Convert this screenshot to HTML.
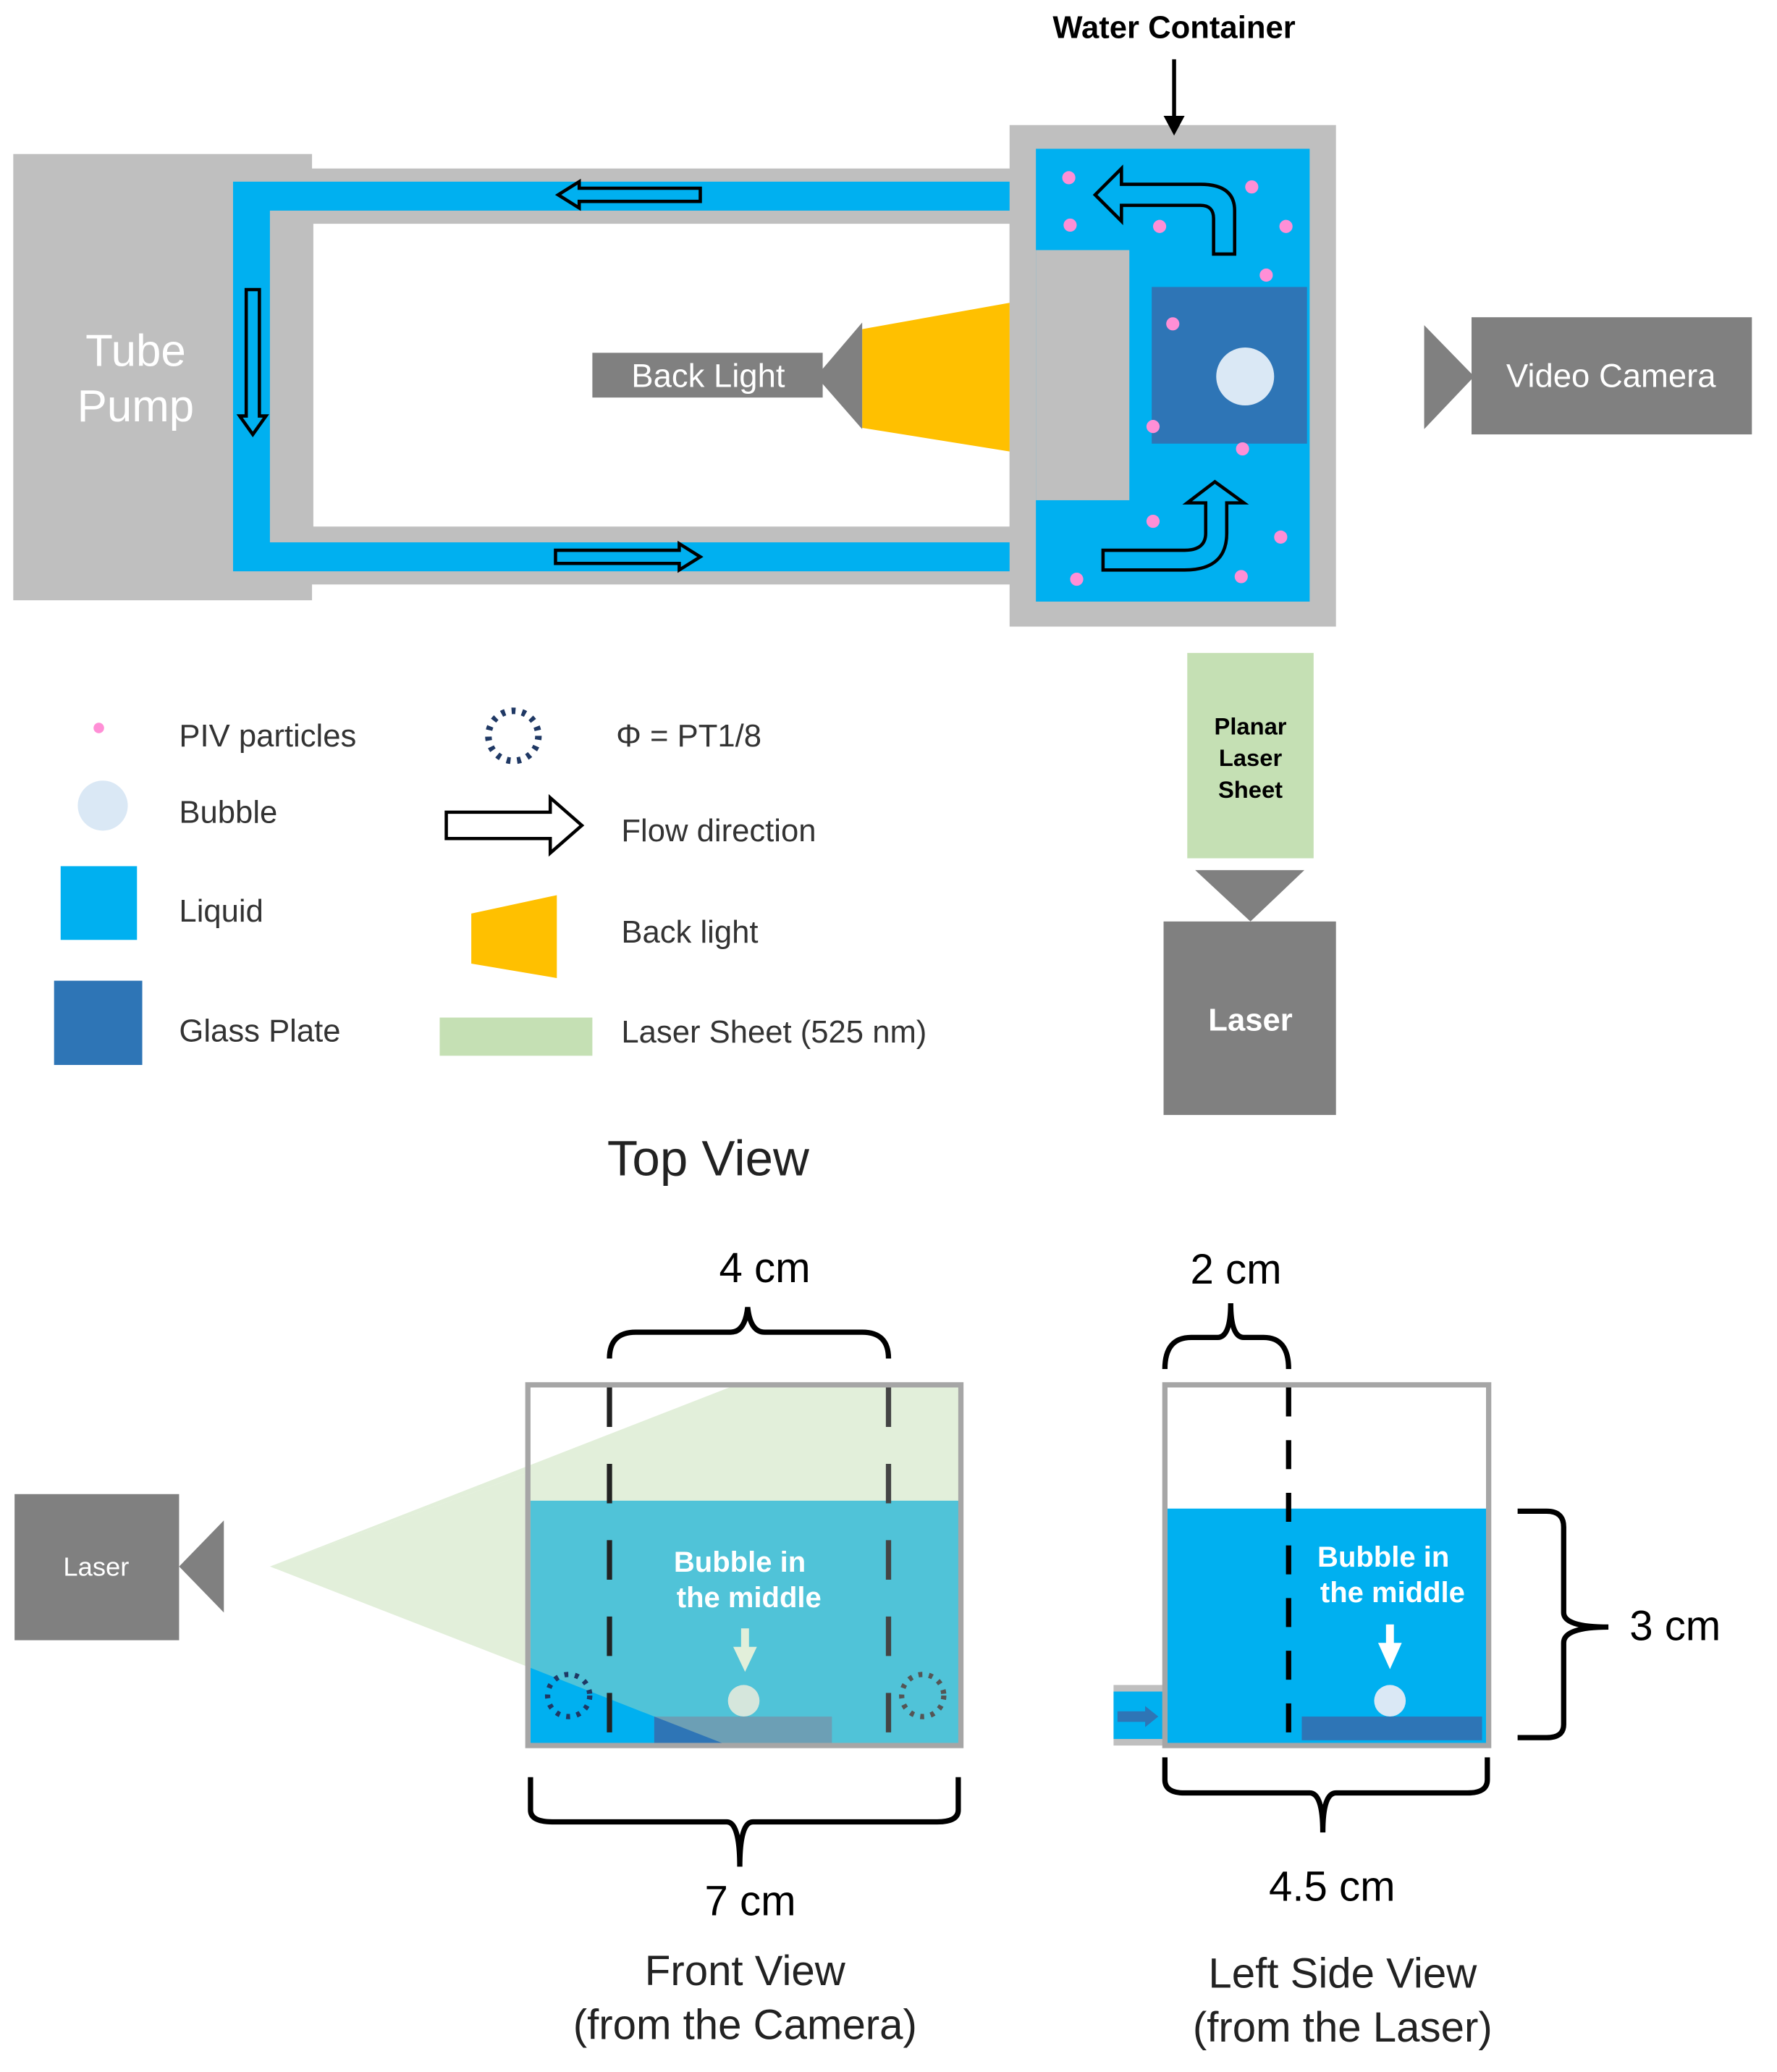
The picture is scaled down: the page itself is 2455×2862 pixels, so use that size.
<!DOCTYPE html>
<html><head><meta charset="utf-8"><style>html,body{margin:0;padding:0;background:#fff}svg{display:block}</style></head>
<body>
<svg width="2455" height="2862" viewBox="0 0 1350 1574" xmlns="http://www.w3.org/2000/svg" font-family="Liberation Sans, DejaVu Sans, sans-serif">
<!-- Tube pump -->
<rect x="10" y="117" width="227" height="339" fill="#bfbfbf"/>
<text x="103" y="278" font-size="34" fill="#fff" text-anchor="middle">Tube</text>
<text x="103" y="320" font-size="34" fill="#fff" text-anchor="middle">Pump</text>
<!-- tubes -->
<rect x="177" y="128" width="613" height="316" fill="#bfbfbf"/>
<rect x="177" y="138" width="613" height="296" fill="#00b0f0"/>
<rect x="205" y="160" width="585" height="252" fill="#bfbfbf"/>
<rect x="238" y="170" width="529" height="230" fill="#fff"/>
<!-- water container -->
<rect x="767" y="95" width="248" height="381" fill="#bfbfbf"/>
<rect x="787" y="113" width="208" height="344" fill="#00b0f0"/>
<rect x="787" y="190" width="71" height="190" fill="#bfbfbf"/>
<rect x="875" y="218" width="118" height="119" fill="#2e75b6"/>
<circle cx="946" cy="286" r="22" fill="#dae8f5"/>
<g fill="#ff8fd6">
<circle cx="812" cy="135" r="5"/><circle cx="951" cy="142" r="5"/><circle cx="813" cy="171" r="5"/><circle cx="881" cy="172" r="5"/><circle cx="977" cy="172" r="5"/><circle cx="962" cy="209" r="5"/><circle cx="891" cy="246" r="5"/><circle cx="876" cy="324" r="5"/><circle cx="944" cy="341" r="5"/><circle cx="876" cy="396" r="5"/><circle cx="973" cy="408" r="5"/><circle cx="818" cy="440" r="5"/><circle cx="943" cy="438" r="5"/>
</g>
<!-- flow arrows -->
<g fill="none" stroke="#000" stroke-width="2.5">
<path d="M532,143 L440,143 L440,138 L424,148 L440,158 L440,153 L532,153 Z"/>
<path d="M422,418 L516,418 L516,413 L532,423 L516,433 L516,428 L422,428 Z"/>
<path d="M187,220 L187,316 L182,316 L192,330 L202,316 L197,316 L197,220 Z"/>
<path d="M938,193 L938,160 Q938,140 912,140 L852,140 L852,128 L832,148 L852,168 L852,156 L912,156 Q922,156 922,166 L922,193 Z"/>
<path d="M838,433 L900,433 Q932,433 932,405 L932,382 L945,382 L923,366 L902,382 L916,382 L916,405 Q916,418 900,418 L838,418 Z"/>
</g>
<!-- Water container label -->
<text x="892" y="29" font-size="24" font-weight="bold" text-anchor="middle">Water Container</text>
<line x1="892" y1="45" x2="892" y2="92" stroke="#000" stroke-width="3"/>
<path d="M884,88 L900,88 L892,103 Z" fill="#000"/>
<!-- back light -->
<polygon points="655,250 767,230 767,343 655,325" fill="#ffc000"/>
<polygon points="655,245 655,326 620,286" fill="#808080"/>
<rect x="450" y="268" width="175" height="34" fill="#808080"/>
<text x="538" y="294" font-size="25" fill="#fff" text-anchor="middle">Back Light</text>
<!-- video camera -->
<polygon points="1082,247 1082,326 1120,286" fill="#808080"/>
<rect x="1118" y="241" width="213" height="89" fill="#808080"/>
<text x="1224" y="294" font-size="25" fill="#fff" text-anchor="middle">Video Camera</text>
<!-- laser top view -->
<rect x="902" y="496" width="96" height="156" fill="#c5e0b4"/>
<text x="950" y="558" font-size="18" font-weight="bold" text-anchor="middle">Planar</text>
<text x="950" y="582" font-size="18" font-weight="bold" text-anchor="middle">Laser</text>
<text x="950" y="606" font-size="18" font-weight="bold" text-anchor="middle">Sheet</text>
<polygon points="908,661 991,661 950,700" fill="#808080"/>
<rect x="884" y="700" width="131" height="147" fill="#808080"/>
<text x="950" y="783" font-size="24" font-weight="bold" fill="#fff" text-anchor="middle">Laser</text>
<!-- legend -->
<circle cx="75" cy="553" r="4" fill="#ff8fd6"/>
<text x="136" y="567" font-size="24" fill="#333">PIV particles</text>
<circle cx="78" cy="612" r="19" fill="#dae8f5"/>
<text x="136" y="625" font-size="24" fill="#333">Bubble</text>
<rect x="46" y="658" width="58" height="56" fill="#00b0f0"/>
<text x="136" y="700" font-size="24" fill="#333">Liquid</text>
<rect x="41" y="745" width="67" height="64" fill="#2e75b6"/>
<text x="136" y="791" font-size="24" fill="#333">Glass Plate</text>
<circle cx="390" cy="559" r="19" fill="none" stroke="#1f3864" stroke-width="5" stroke-dasharray="3,5"/>
<text x="468" y="567" font-size="24" fill="#333">Φ  =  PT1/8</text>
<path d="M339,617 L418,617 L418,606 L442,627 L418,648 L418,637 L339,637 Z" fill="none" stroke="#000" stroke-width="2.5"/>
<text x="472" y="639" font-size="24" fill="#333">Flow direction</text>
<polygon points="358,694 423,680 423,743 358,732" fill="#ffc000"/>
<text x="472" y="716" font-size="24" fill="#333">Back light</text>
<rect x="334" y="773" width="116" height="29" fill="#c5e0b4"/>
<text x="472" y="792" font-size="24" fill="#333">Laser Sheet (525 nm)</text>
<text x="538" y="893" font-size="38" fill="#222" text-anchor="middle">Top View</text>
<!-- front view -->
<rect x="403" y="1140" width="325" height="186" fill="#00b0f0"/>
<polygon points="205,1190 554,1054 730,1054 730,1140 403,1140 403,1118" fill="#e2efda"/>
<polygon points="205,1190 403,1118 403,1267" fill="#e2efda"/>
<polygon points="403,1140 728,1140 728,1326 553,1326 403,1267" fill="#50c3d8"/>
<rect x="497" y="1304" width="135" height="21" fill="#6c9fb5"/>
<polygon points="497,1304 497,1325 551,1325" fill="#2e75b6"/>
<rect x="401" y="1052" width="329" height="274" fill="none" stroke="#a6a6a6" stroke-width="4"/>
<line x1="463" y1="1054" x2="463" y2="1326" stroke="#222" stroke-width="4" stroke-dasharray="30,28"/>
<line x1="675" y1="1054" x2="675" y2="1326" stroke="#444" stroke-width="4" stroke-dasharray="30,28"/>
<circle cx="432" cy="1288" r="16" fill="none" stroke="#1f3864" stroke-width="4" stroke-dasharray="3,5"/>
<circle cx="701" cy="1288" r="16" fill="none" stroke="#555" stroke-width="4" stroke-dasharray="3,5"/>
<text x="562" y="1194" font-size="22" font-weight="bold" fill="#fff" text-anchor="middle">Bubble in</text>
<text x="569" y="1221" font-size="22" font-weight="bold" fill="#fff" text-anchor="middle">the middle</text>
<rect x="563" y="1237" width="6" height="17" fill="#e2efda"/><path d="M557,1251 L575,1251 L566,1270Z" fill="#e2efda"/>
<circle cx="565" cy="1292" r="12" fill="#d5e6dc"/>
<path d="M463,1032 Q463,1012 483,1012 L555,1012 Q566,1012 568,993 Q570,1012 581,1012 L655,1012 Q675,1012 675,1032" fill="none" stroke="#000" stroke-width="4"/>
<text x="581" y="974" font-size="32" text-anchor="middle">4 cm</text>
<path d="M403,1350 L403,1375 Q403,1384 420,1384 L552,1384 Q562,1384 562,1418 Q562,1384 572,1384 L712,1384 Q728,1384 728,1375 L728,1350" fill="none" stroke="#000" stroke-width="4"/>
<text x="570" y="1455" font-size="32" text-anchor="middle">7 cm</text>
<text x="566" y="1508" font-size="32" fill="#222" text-anchor="middle">Front View</text>
<text x="566" y="1549" font-size="32" fill="#222" text-anchor="middle">(from the Camera)</text>
<!-- laser left -->
<rect x="11" y="1135" width="125" height="111" fill="#808080"/>
<polygon points="136,1190 170,1155 170,1225" fill="#808080"/>
<text x="73" y="1197" font-size="20" fill="#fff" text-anchor="middle">Laser</text>
<!-- side view -->
<rect x="887" y="1146" width="242" height="180" fill="#00b0f0"/>
<rect x="989" y="1304" width="137" height="18" fill="#2e75b6"/>
<rect x="846" y="1280" width="39" height="46" fill="#bfbfbf"/>
<rect x="846" y="1285" width="39" height="36" fill="#00b0f0"/>
<path d="M849,1300 L870,1300 L870,1296 L880,1304 L870,1312 L870,1308 L849,1308Z" fill="#2e75b6"/>
<rect x="885" y="1052" width="246" height="274" fill="none" stroke="#a6a6a6" stroke-width="4"/>
<line x1="979" y1="1054" x2="979" y2="1326" stroke="#000" stroke-width="4" stroke-dasharray="22,18"/>
<text x="1051" y="1190" font-size="22" font-weight="bold" fill="#fff" text-anchor="middle">Bubble in</text>
<text x="1058" y="1217" font-size="22" font-weight="bold" fill="#fff" text-anchor="middle">the middle</text>
<rect x="1053" y="1234" width="6" height="17" fill="#fff"/><path d="M1047,1248 L1065,1248 L1056,1268Z" fill="#fff"/>
<circle cx="1056" cy="1292" r="12" fill="#dae8f5"/>
<path d="M885,1040 Q885,1016 905,1016 L925,1016 Q935,1016 935,990 Q935,1016 945,1016 L960,1016 Q979,1016 979,1040" fill="none" stroke="#000" stroke-width="4"/>
<text x="939" y="975" font-size="32" text-anchor="middle">2 cm</text>
<path d="M885,1335 L885,1352 Q885,1362 900,1362 L995,1362 Q1005,1362 1005,1392 Q1005,1362 1015,1362 L1115,1362 Q1130,1362 1130,1352 L1130,1335" fill="none" stroke="#000" stroke-width="4"/>
<text x="1012" y="1444" font-size="32" text-anchor="middle">4.5 cm</text>
<path d="M1153,1148 L1175,1148 Q1188,1148 1188,1160 L1188,1225 Q1188,1236 1222,1236 Q1188,1236 1188,1248 L1188,1310 Q1188,1320 1175,1320 L1153,1320" fill="none" stroke="#000" stroke-width="4"/>
<text x="1238" y="1246" font-size="32">3 cm</text>
<text x="1020" y="1510" font-size="32" fill="#222" text-anchor="middle">Left Side View</text>
<text x="1020" y="1551" font-size="32" fill="#222" text-anchor="middle">(from the Laser)</text>
</svg>
</body></html>
